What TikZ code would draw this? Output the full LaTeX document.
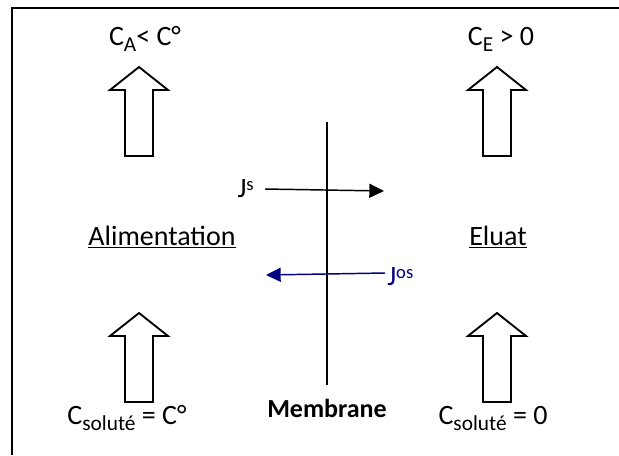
\documentclass[tikz,border=0pt]{standalone}
\usepackage{fontspec}
\setmainfont{Carlito}
\usepackage{xcolor}
\usetikzlibrary{arrows.meta}
\definecolor{fluxblue}{RGB}{0,0,128}
\newcommand{\lowtext}[1]{\raisebox{-4.5pt}{\fontsize{16}{16}\selectfont #1}}
\newcommand{\hightext}[1]{\raisebox{5pt}{\fontsize{14}{14}\selectfont #1}}
\tikzset{
  labelnode/.style={inner sep=0pt,anchor=base,font=\fontsize{21}{25}\selectfont},
  fluxedge/.style={line width=1.1pt,-{Triangle[length=11pt,width=10.5pt]}},
  membraneedge/.style={line width=1.5pt},
  frameedge/.style={line width=2pt},
  blockarrow/.style={line width=1.4pt,fill=white,line join=miter},
  pics/uparrow/.style={code={
    \draw[blockarrow] (0,0) -- (29,23) -- (14,23) -- (14,89) -- (-14,89)
      -- (-14,23) -- (-29,23) -- cycle;
  }}
}

\begin{document}
\begin{tikzpicture}[x=0.75pt,y=-0.75pt]
  \useasboundingbox (0,0) rectangle (619,455);
  \draw[frameedge] (619,8) -- (12,8) -- (12,455);

  % concentrations
  \node[labelnode] (CA) at (145,45) {C\lowtext{A}< C°};
  \node[labelnode] (CE) at (501,45) {C\lowtext{E} > 0};
  \node[labelnode] (Cfeed) at (127,424) {C\lowtext{soluté} = C°};
  \node[labelnode] (Celu) at (493,424) {C\lowtext{soluté} = 0};

  % compartments
  \node[labelnode] (alim) at (162,245) {\underline{Alimentation}};
  \node[labelnode] (eluat) at (498,245) {\underline{Eluat}};
  \node[labelnode,font=\fontsize{19.5}{23}\selectfont\bfseries] (mem) at (327,417) {Membrane};

  % flow arrows
  \pic at (139,67) {uparrow};
  \pic at (497,67) {uparrow};
  \pic at (139,313) {uparrow};
  \pic at (497,313) {uparrow};

  % membrane
  \coordinate (memtop) at (327,122);
  \coordinate (membot) at (327,385);
  \draw[membraneedge] (memtop) -- (membot);

  % fluxes
  \node[labelnode,anchor=base east] (Js) at (254,197) {J\hightext{s}};
  \coordinate (jsstart) at (265,189);
  \coordinate (jsend) at (384,191);
  \draw[fluxedge] (jsstart) -- (jsend);

  \node[labelnode,anchor=base west,text=fluxblue] (Jos) at (387,285) {J\hightext{os}};
  \coordinate (josstart) at (385,273);
  \coordinate (josend) at (266,275);
  \draw[fluxedge,fluxblue] (josstart) -- (josend);
\end{tikzpicture}
\end{document}
